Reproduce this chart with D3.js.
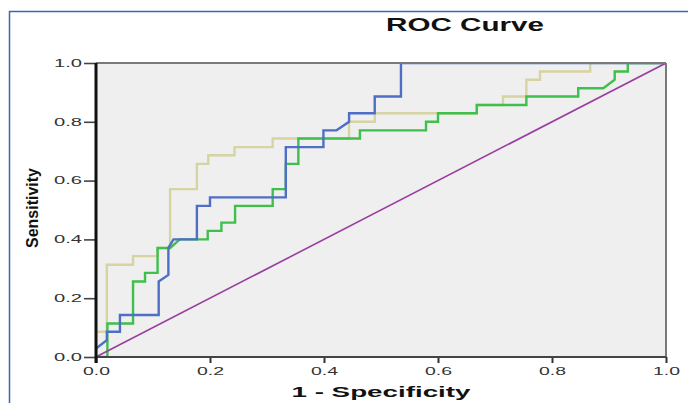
<!DOCTYPE html>
<html>
<head>
<meta charset="utf-8">
<script src="https://cdn.jsdelivr.net/npm/d3@7"></script>
<style>
  html, body { margin: 0; padding: 0; background: #fff; }
  svg { display: block; }
  text { font-family: "Liberation Sans", Arial, sans-serif; }
</style>
</head>
<body>
<svg id="chart" width="688" height="403"></svg>
<script>
// ---- data ----
const titleText = "ROC Curve";
const xTitle = "1 - Specificity";
const yTitle = "Sensitivity";
const tickValues = [0, 0.2, 0.4, 0.6, 0.8, 1.0];
const tickLabels = ["0.0", "0.2", "0.4", "0.6", "0.8", "1.0"];

// each curve: [1 - specificity, sensitivity]
const curveBlue = [[0,0],[0,0.029],[0.019,0.057],[0.019,0.086],[0.042,0.086],[0.042,0.143],[0.110,0.143],[0.110,0.257],[0.127,0.279],[0.127,0.371],[0.136,0.400],[0.177,0.400],[0.177,0.514],[0.200,0.514],[0.200,0.543],[0.333,0.543],[0.333,0.714],[0.399,0.714],[0.399,0.771],[0.422,0.771],[0.444,0.800],[0.444,0.829],[0.489,0.829],[0.489,0.886],[0.535,0.886],[0.535,1.0],[1,1]];
const curveGreen = [[0,0],[0.020,0],[0.020,0.114],[0.065,0.114],[0.065,0.257],[0.086,0.257],[0.086,0.286],[0.108,0.286],[0.108,0.371],[0.130,0.371],[0.147,0.400],[0.196,0.400],[0.196,0.429],[0.220,0.429],[0.220,0.457],[0.244,0.457],[0.244,0.514],[0.310,0.514],[0.310,0.571],[0.333,0.571],[0.333,0.657],[0.355,0.657],[0.355,0.743],[0.463,0.743],[0.463,0.771],[0.579,0.771],[0.579,0.800],[0.600,0.800],[0.600,0.829],[0.668,0.829],[0.668,0.857],[0.755,0.857],[0.755,0.886],[0.846,0.886],[0.846,0.914],[0.890,0.914],[0.910,0.943],[0.910,0.971],[0.933,0.971],[0.933,1.0],[1,1]];
const curveTan = [[0,0],[0,0.086],[0.019,0.086],[0.019,0.314],[0.065,0.314],[0.065,0.343],[0.108,0.343],[0.108,0.371],[0.130,0.371],[0.130,0.571],[0.177,0.571],[0.177,0.657],[0.197,0.657],[0.197,0.686],[0.243,0.686],[0.243,0.714],[0.310,0.714],[0.310,0.743],[0.444,0.743],[0.444,0.800],[0.489,0.800],[0.489,0.829],[0.668,0.829],[0.668,0.857],[0.714,0.857],[0.714,0.886],[0.755,0.886],[0.755,0.943],[0.779,0.943],[0.779,0.971],[0.867,0.971],[0.867,1.0],[1,1]];
const referenceLine = [[0,0],[1,1]];

// ---- drawing ----
const svg = d3.select("#chart");
const x = d3.scaleLinear().domain([0, 1]).range([96, 666]);
const y = d3.scaleLinear().domain([0, 1]).range([357, 63]);

svg.append("defs").append("clipPath").attr("id", "plotclip").append("rect")
  .attr("x", x(0)).attr("y", y(1)).attr("width", x(1) - x(0)).attr("height", y(0) - y(1));

// outer blue frame
svg.append("rect").attr("x", 9.5).attr("y", 11.5).attr("width", 720).attr("height", 420)
  .attr("fill", "none").attr("stroke", "#3f66b3").attr("stroke-width", 1.5);

// title
svg.append("text").attr("x", 386).attr("y", 31).attr("font-size", 18).attr("font-weight", "bold")
  .attr("fill", "#111").attr("textLength", 158).attr("lengthAdjust", "spacingAndGlyphs").text(titleText);

// plot background
svg.append("rect").attr("x", x(0)).attr("y", y(1)).attr("width", x(1) - x(0)).attr("height", y(0) - y(1))
  .attr("fill", "#efefef");

const line = d3.line().x(d => x(d[0])).y(d => y(d[1]));
const series = [
  { data: curveTan, color: "#d6d4a2", w: 2.4 },
  { data: curveGreen, color: "#3fbf4c", w: 2.4 },
  { data: curveBlue, color: "#4f6fc6", w: 2.4 },
  { data: referenceLine, color: "#9a3ea0", w: 1.6 }
];
svg.append("g").attr("clip-path", "url(#plotclip)").selectAll("path").data(series).join("path")
  .attr("d", d => line(d.data)).attr("fill", "none")
  .attr("stroke", d => d.color).attr("stroke-width", d => d.w)
  .attr("stroke-linejoin", "miter");

// frame: top & right gray
svg.append("line").attr("x1", x(0)).attr("x2", x(1)).attr("y1", y(1)).attr("y2", y(1))
  .attr("stroke", "#7a7a7a").attr("stroke-width", 2);
svg.append("line").attr("x1", x(1)).attr("x2", x(1)).attr("y1", y(1)).attr("y2", y(0))
  .attr("stroke", "#7a7a7a").attr("stroke-width", 2);

// y axis
const yAxis = d3.axisLeft(y).tickValues(tickValues).tickFormat((d, i) => tickLabels[i])
  .tickSize(12).tickPadding(2);
const gy = svg.append("g").attr("transform", `translate(${x(0)},0)`).call(yAxis);
gy.select(".domain").remove();
gy.selectAll(".tick line").attr("stroke", "#444").attr("stroke-width", 1.6);
gy.selectAll(".tick text").attr("font-size", 10).attr("fill", "#333")
  .attr("textLength", 28).attr("lengthAdjust", "spacingAndGlyphs");

// x axis
const xAxis = d3.axisBottom(x).tickValues(tickValues).tickFormat((d, i) => tickLabels[i])
  .tickSize(6).tickPadding(5);
const gx = svg.append("g").attr("transform", `translate(0,${y(0)})`).call(xAxis);
gx.select(".domain").remove();
gx.selectAll(".tick line").attr("stroke", "#333").attr("stroke-width", 2);
gx.selectAll(".tick text").attr("font-size", 10).attr("fill", "#333")
  .attr("textLength", 27).attr("lengthAdjust", "spacingAndGlyphs");

// bottom and left axis lines
svg.append("line").attr("x1", x(0)).attr("x2", x(1)).attr("y1", y(0)).attr("y2", y(0))
  .attr("stroke", "#444").attr("stroke-width", 2);
svg.append("line").attr("x1", x(0)).attr("x2", x(0)).attr("y1", y(1)).attr("y2", y(0) + 6)
  .attr("stroke", "#111").attr("stroke-width", 3);

// axis titles
svg.append("text").attr("x", (x(0) + x(1)) / 2 - 89.5).attr("y", 397).attr("font-size", 14.5)
  .attr("font-weight", "bold").attr("fill", "#111")
  .attr("textLength", 179).attr("lengthAdjust", "spacingAndGlyphs").text(xTitle);
svg.append("text").attr("transform", `translate(38,${208 + 40}) rotate(-90)`)
  .attr("font-size", 17).attr("font-weight", "bold").attr("fill", "#111")
  .attr("textLength", 80).attr("lengthAdjust", "spacingAndGlyphs").text(yTitle);
</script>
</body>
</html>
